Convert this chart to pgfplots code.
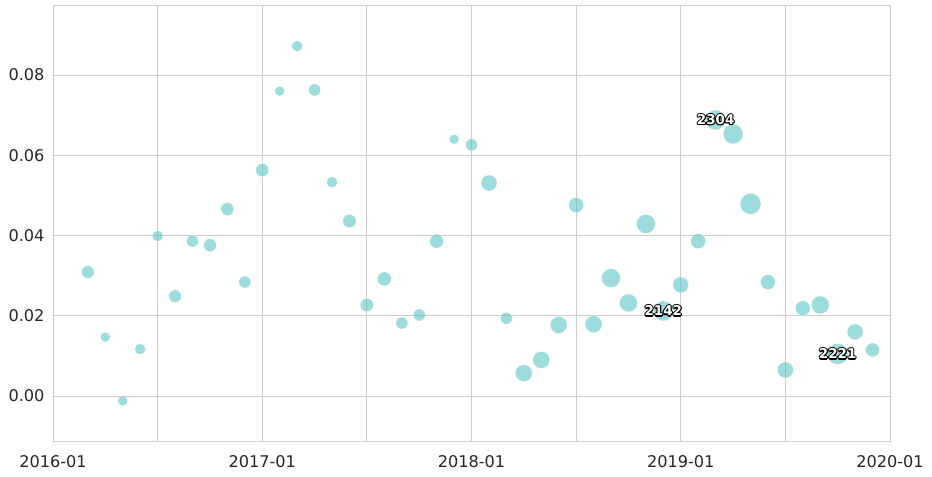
\documentclass[border=0pt]{standalone}
\usepackage{pgfplots}
\pgfplotsset{compat=1.18}
\usepackage{pgfplotstable}
\usepackage{fontspec}
\setmainfont{DejaVu Sans}
\definecolor{gridc}{HTML}{CCCCCC}
\definecolor{textc}{HTML}{262626}
\definecolor{bub}{RGB}{92,196,196}

\pgfplotstableread{
x y r
2 0.0309 6.3
3 0.0147 5.0
4 -0.0012 5.0
5 0.0117 5.5
6 0.0399 5.5
7 0.0249 6.3
8 0.0386 6.0
9 0.0376 6.5
10 0.0466 6.5
11 0.0284 6.0
12 0.0563 6.5
13 0.0760 5.0
14 0.0872 5.5
15 0.0763 6.0
16 0.0533 5.5
17 0.0436 6.7
18 0.0227 6.7
19 0.0292 7.0
20 0.0182 6.0
21 0.0202 6.0
22 0.0386 7.0
23 0.0640 5.0
24 0.0626 6.0
25 0.0531 8.0
26 0.0194 6.0
27 0.0057 8.5
28 0.0090 8.5
29 0.0177 8.5
30 0.0476 7.5
31 0.0179 8.5
32 0.0294 9.5
33 0.0232 9.0
34 0.0429 9.5
35 0.0212 10.0
36 0.0277 8.0
37 0.0386 7.5
38 0.0688 10.0
39 0.0653 10.0
40 0.0479 10.5
41 0.0284 7.5
42 0.0065 8.0
43 0.0219 7.5
44 0.0227 9.0
45 0.0105 10.5
46 0.0160 8.0
47 0.0115 7.0
}\datatable

\newcommand\olabel[2]{%
  \node[text=black,xshift=1.1bp] at (#1) {#2};
  \node[text=black,xshift=-1.1bp] at (#1) {#2};
  \node[text=black,yshift=1.1bp] at (#1) {#2};
  \node[text=black,yshift=-1.1bp] at (#1) {#2};
  \node[text=black,xshift=0.8bp,yshift=0.8bp] at (#1) {#2};
  \node[text=black,xshift=-0.8bp,yshift=0.8bp] at (#1) {#2};
  \node[text=black,xshift=0.8bp,yshift=-0.8bp] at (#1) {#2};
  \node[text=black,xshift=-0.8bp,yshift=-0.8bp] at (#1) {#2};
  \node[text=white] at (#1) {#2};
}

\begin{document}
\begin{tikzpicture}
\begin{axis}[
  scale only axis,
  width=837bp, height=435bp,
  xmin=0, xmax=48,
  ymin=-0.0112, ymax=0.0972,
  xtick={0,6,...,48},
  xticklabels={2016-01,,2017-01,,2018-01,,2019-01,,2020-01},
  ytick={0,0.02,0.04,0.06,0.08},
  y tick label style={/pgf/number format/fixed,/pgf/number format/fixed zerofill,/pgf/number format/precision=2,/pgf/number format/assume math mode=true, xshift=-5bp},
  scaled y ticks=false,
  grid=major,
  major grid style={gridc, line width=0.9bp},
  axis line style={gridc, line width=1bp},
  major tick length=0pt,
  tick label style={font=\fontsize{16.2}{19}\selectfont, text=textc},
  x tick label style={yshift=-11bp},
  clip=false,
]
\addplot[
  scatter, only marks, mark=*,
  scatter/use mapped color={draw=white, fill=bub},
  visualization depends on={\thisrow{r} \as \perpointmarksize},
  scatter/@pre marker code/.append style={/tikz/mark size=\perpointmarksize},
  fill opacity=0.6, draw opacity=0.5, line width=0.6bp,
] table[x=x, y=y] {\datatable};
\coordinate (la) at (axis cs:38,0.0688);
\coordinate (lb) at (axis cs:35,0.0212);
\coordinate (lc) at (axis cs:45,0.0105);
\end{axis}
\begin{scope}[font=\bfseries\fontsize{13.5}{16}\selectfont]
\olabel{la}{2304}
\olabel{lb}{2142}
\olabel{lc}{2221}
\end{scope}
\path ([shift={(-53bp,-35bp)}]current axis.south west) rectangle ([shift={(42bp,6bp)}]current axis.north east);
\end{tikzpicture}
\end{document}
